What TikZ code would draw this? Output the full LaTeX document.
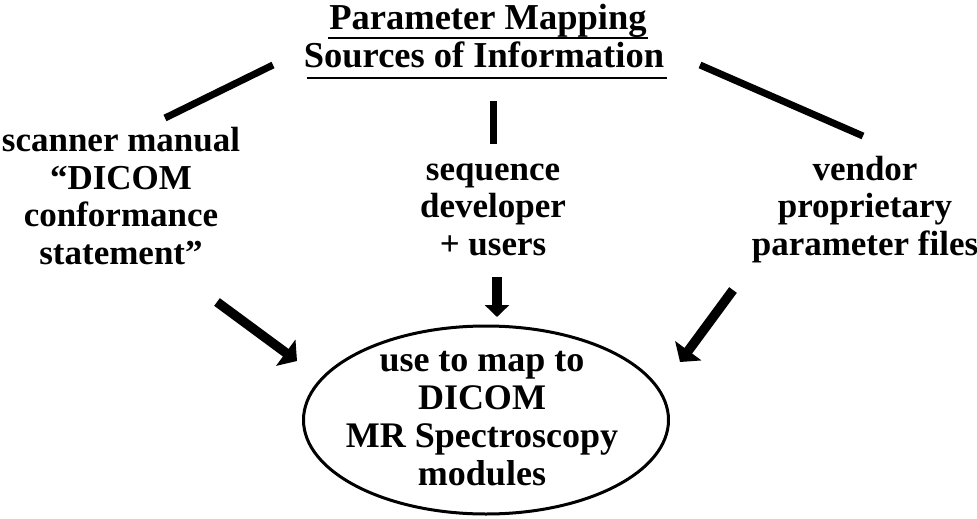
\documentclass[tikz,border=0pt]{standalone}
\usepackage{fontspec}
\setmainfont{Liberation Serif}
\usetikzlibrary{arrows.meta,shapes.geometric}
\begin{document}
\begin{tikzpicture}[x=1pt,y=-1pt,
  lbl/.style={font=\fontsize{35}{37.5}\selectfont\bfseries, align=center, inner sep=0pt, anchor=base},
  bigl/.style={lbl, font=\fontsize{36.5}{38}\selectfont\bfseries},
  link/.style={line width=7pt},
  uline/.style={line width=2.6pt},
  flow/.style={line width=9.5pt, -{Triangle[length=14pt,width=32pt]}},
  flowv/.style={line width=9.5pt, -{Triangle[length=12pt,width=24pt]}},
]
\useasboundingbox (0,0) rectangle (977,519);
% title
\node[bigl] (t1) at (488,30) {Parameter Mapping};
\node[bigl] (t2) at (484,67) {Sources of Information};
\coordinate (u1a) at (328,38); \coordinate (u1b) at (648,38);
\coordinate (u2a) at (307,78); \coordinate (u2b) at (667,78);
\draw[uline] (u1a) -- (u1b);
\draw[uline] (u2a) -- (u2b);
% sources (base anchor = baseline of the last line)
\node[lbl] (src1) at (121,264) {scanner manual\\“DICOM\\conformance\\statement”};
\node[lbl] (src2) at (493,255) {sequence\\developer\\+ users};
\node[lbl] (src3) at (865,255) {vendor\\proprietary\\parameter files};
% goal
\node[ellipse, draw, line width=3pt, minimum width=365pt, minimum height=188pt, inner sep=0pt] (goal) at (486,420) {};
\node[lbl, font=\fontsize{36}{38}\selectfont\bfseries] (goaltext) at (482,485) {use to map to\\DICOM\\MR Spectroscopy\\modules};
% links from title
\coordinate (l1a) at (273,65); \coordinate (l1b) at (165,118);
\coordinate (l2a) at (493.5,101); \coordinate (l2b) at (493.5,144);
\coordinate (l3a) at (700,65); \coordinate (l3b) at (863,136);
\draw[link] (l1a) -- (l1b);
\draw[link] (l2a) -- (l2b);
\draw[link] (l3a) -- (l3b);
% arrows to goal
\coordinate (a1a) at (217,302); \coordinate (a1b) at (297,361);
\coordinate (a2a) at (497,277); \coordinate (a2b) at (497,317);
\coordinate (a3a) at (733,290); \coordinate (a3b) at (680,362);
\draw[flow] (a1a) -- (a1b);
\draw[flowv] (a2a) -- (a2b);
\draw[flow] (a3a) -- (a3b);
\end{tikzpicture}
\end{document}
